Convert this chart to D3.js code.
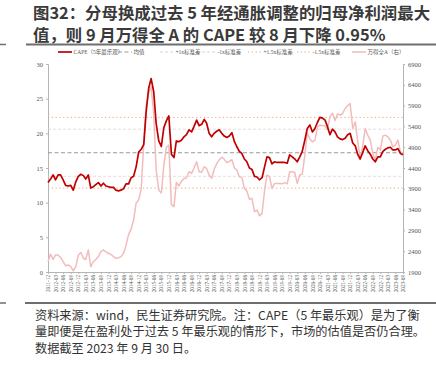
<!DOCTYPE html>
<html lang="zh">
<head>
<meta charset="UTF-8">
<script src="https://d3js.org/d3.v7.min.js"></script>
<style>
  body { margin: 0; background: #fff; }
  svg text { font-family: "Noto Sans CJK SC", "Noto Sans", sans-serif; }
  .axis text { font-family: "Liberation Serif", serif; fill: #555; }
  .legend text { font-family: "Liberation Serif", "Noto Sans CJK SC", serif; fill: #555; }
</style>
</head>
<body>
<div id="chart"></div>
<script>
// CAPE (5年最乐观), monthly 2011-12 .. 2023-09
const capeValues = [
  12.9, 13.4, 14.0, 13.3, 14.0, 14.0, 13.3, 12.5, 12.4, 12.5,
  11.8, 13.0, 13.8, 14.1, 13.9, 13.4, 14.0, 12.1, 12.3, 12.6,
  12.9, 12.4, 12.8, 12.4, 12.3, 12.2, 12.2, 11.8, 11.7, 11.8,
  12.0, 12.7, 12.7, 13.6, 13.8, 15.2, 17.3, 17.7, 18.4, 23.0,
  26.5, 27.9, 26.0, 21.4, 18.9, 18.1, 20.8, 21.8, 22.5, 17.0,
  16.5, 18.9, 18.8, 19.0, 19.5, 19.8, 20.5, 20.2, 21.0, 21.9,
  21.1, 21.3, 22.0, 21.5, 20.0, 19.5, 20.0, 20.3, 20.5, 20.0,
  19.6, 19.4, 19.6, 20.1, 18.8, 18.1, 17.4, 17.1, 16.3, 15.9,
  15.0, 14.8, 13.8, 13.7, 13.3, 13.6, 15.2, 16.6, 16.5, 15.6,
  15.9, 15.8, 15.8, 15.8, 15.8, 15.7, 16.9, 16.6, 16.3, 15.9,
  16.6, 17.4, 19.0, 20.7, 21.2, 20.2, 20.7, 21.6, 22.3, 22.2,
  21.9, 21.0, 19.8, 20.6, 20.2, 19.5, 19.2, 19.1, 19.3, 19.8,
  20.0, 18.6, 18.2, 17.0, 16.3, 17.2, 18.2, 17.5, 17.0, 16.3,
  15.9, 16.6, 16.6, 17.4, 17.7, 17.9, 18.0, 17.6, 17.6, 17.8,
  17.1, 16.9
];

// 万得全A (右轴)
const windAValues = [
  2150, 2330, 2200, 2310, 2310, 2250, 2150, 2050, 2070, 2030,
  1930, 2030, 2300, 2370, 2230, 2200, 2430, 2030, 2150, 2200,
  2270, 2390, 2430, 2380, 2350, 2320, 2270, 2230, 2240, 2270,
  2350, 2540, 2800, 2930, 3150, 3560, 3630, 3900, 5000, 5900,
  6200, 6350, 5700, 4350, 3870, 3800, 4450, 4900, 4950, 3520,
  3470, 4050, 3970, 4080, 4150, 4160, 4310, 4270, 4400, 4550,
  4310, 4300, 4430, 4390, 4230, 4150, 4370, 4500, 4600, 4660,
  4610, 4530, 4560, 4600, 4400, 4350, 4190, 4180, 3910, 3850,
  3650, 3670, 3350, 3390, 3250, 3310, 3870, 4230, 4190, 3910,
  4030, 4030, 4030, 4020, 4050, 4020, 4310, 4310, 4290, 4030,
  4230, 4250, 4700, 5250, 5100, 5030, 5070, 5390, 5430, 5420,
  5410, 5320, 5630, 5720, 5540, 5700, 5670, 5710, 5830, 5900,
  5950, 5350, 5510, 5070, 4630, 4910, 5350, 5190, 5070, 4750,
  4590, 4900, 4830, 5170, 5190, 5150, 5070, 4910, 4950, 5070,
  4790, 4750
];

const bandNames = ["均值", "+1x标准差", "-1x标准差", "+1.5x标准差", "-1.5x标准差"];
const bandValues = [17.2, 20.6, 13.8, 22.3, 12.1];

const tickLabels = [
  "2011-12", "2012-03", "2012-06", "2012-09", "2012-12", "2013-03", "2013-06", "2013-09",
  "2013-12", "2014-03", "2014-06", "2014-09", "2014-12", "2015-03", "2015-06", "2015-09",
  "2015-12", "2016-03", "2016-06", "2016-09", "2016-12", "2017-03", "2017-06", "2017-09",
  "2017-12", "2018-03", "2018-06", "2018-09", "2018-12", "2019-03", "2019-06", "2019-09",
  "2019-12", "2020-03", "2020-06", "2020-09", "2020-12", "2021-03", "2021-06", "2021-09",
  "2021-12", "2022-03", "2022-06", "2022-09", "2022-12", "2023-03", "2023-06", "2023-09"
];
const leftTicks = [0, 5, 10, 15, 20, 25, 30];
const rightTicks = [1900, 2400, 2900, 3400, 3900, 4400, 4900, 5400, 5900, 6400, 6900];

const titleLines = [
  "图32：分母换成过去 5 年经通胀调整的归母净利润最大",
  "值，则 9 月万得全 A 的 CAPE 较 8 月下降 0.95%"
];
const footLines = [
  "资料来源：wind，民生证券研究院。注：CAPE（5 年最乐观）是为了衡",
  "量即便是在盈利处于过去 5 年最乐观的情形下，市场的估值是否仍合理。",
  "数据截至 2023 年 9 月 30 日。"
];

const W = 436, H = 371;
const svg = d3.select("#chart").append("svg").attr("width", W).attr("height", H);

// title
svg.selectAll(".title").data(titleLines).enter().append("text")
  .attr("x", 33).attr("y", (d, i) => 18.5 + i * 22)
  .attr("font-size", 16.4).attr("font-weight", 700).attr("fill", "#3a3a3a")
  .text(d => d);

svg.append("line").attr("x1", 26).attr("x2", W).attr("y1", 44.5).attr("y2", 44.5)
  .attr("stroke", "#6e6e6e").attr("stroke-width", 2);
svg.append("line").attr("x1", 0).attr("x2", 6).attr("y1", 44.5).attr("y2", 44.5)
  .attr("stroke", "#6e6e6e").attr("stroke-width", 1.5);

// scales
const parse = d3.timeParse("%Y-%m");
const months = d3.timeMonth.range(parse("2011-12"), d3.timeMonth.offset(parse("2023-09"), 1));
const x = d3.scaleTime().domain([months[0], months[months.length - 1]]).range([48, 403]);
const yL = d3.scaleLinear().domain([0, 30]).range([272, 64]);
const yR = d3.scaleLinear().domain([1900, 6900]).range([272, 64]);

// axes
const gL = svg.append("g").attr("class", "axis").attr("transform", "translate(48,0)")
  .call(d3.axisLeft(yL).tickValues(leftTicks).tickSize(2).tickPadding(3));
const gR = svg.append("g").attr("class", "axis").attr("transform", "translate(403,0)")
  .call(d3.axisRight(yR).tickValues(rightTicks).tickSize(2).tickPadding(3)
    .tickFormat(d3.format("d")));
const gX = svg.append("g").attr("class", "axis").attr("transform", "translate(0,272)")
  .call(d3.axisBottom(x).tickValues(tickLabels.map(parse)).tickSize(2)
    .tickFormat(d3.timeFormat("%Y-%m")));
[gL, gR, gX].forEach(g => {
  g.select(".domain").attr("stroke", "#b5b5b5");
  g.selectAll(".tick line").attr("stroke", "#b5b5b5");
  g.selectAll("text").attr("font-size", 6.5);
});
gX.selectAll("text").attr("font-size", 5.2)
  .attr("transform", "rotate(-90)").attr("text-anchor", "end")
  .attr("x", -3).attr("y", 0).attr("dy", "0.32em");

// band lines
const bandStyle = [
  {stroke: "#9a9a9a", dash: "4,2.5", w: 1},
  {stroke: "#e6d2d2", dash: "3,2", w: 0.8},
  {stroke: "#e6d2d2", dash: "3,2", w: 0.8},
  {stroke: "#f0a47c", dash: "1.2,2.6", w: 1},
  {stroke: "#f0a47c", dash: "1.2,2.6", w: 1}
];
svg.selectAll(".band").data(bandValues).enter().append("line")
  .attr("x1", 48).attr("x2", 403)
  .attr("y1", d => yL(d)).attr("y2", d => yL(d))
  .attr("stroke", (d, i) => bandStyle[i].stroke)
  .attr("stroke-dasharray", (d, i) => bandStyle[i].dash)
  .attr("stroke-width", (d, i) => bandStyle[i].w);

// series
svg.append("path").datum(windAValues)
  .attr("fill", "none").attr("stroke", "#f2bcbc").attr("stroke-width", 1.5)
  .attr("stroke-linejoin", "round")
  .attr("d", d3.line().x((d, i) => x(months[i])).y(d => yR(d)));
svg.append("path").datum(capeValues)
  .attr("fill", "none").attr("stroke", "#c00000").attr("stroke-width", 1.7)
  .attr("stroke-linejoin", "round")
  .attr("d", d3.line().x((d, i) => x(months[i])).y(d => yL(d)));

// legend
const legendItems = [
  {name: "CAPE（5年最乐观）", x: 58, stroke: "#c00000", dash: null, w: 1.7},
  {name: bandNames[0], x: 118, stroke: "#9a9a9a", dash: "4,2.5", w: 1},
  {name: bandNames[1], x: 160, stroke: "#d9c4c4", dash: "3,2", w: 0.8},
  {name: bandNames[2], x: 202, stroke: "#d9c4c4", dash: "3,2", w: 0.8},
  {name: bandNames[3], x: 248, stroke: "#f0a47c", dash: "1.2,2.6", w: 1},
  {name: bandNames[4], x: 297, stroke: "#f0a47c", dash: "1.2,2.6", w: 1},
  {name: "万得全A（右）", x: 352, stroke: "#f2bcbc", dash: null, w: 1.5}
];
const lg = svg.append("g").attr("class", "legend");
const li = lg.selectAll("g").data(legendItems).enter().append("g")
  .attr("transform", d => `translate(${d.x},52)`);
li.append("line").attr("x1", 0).attr("x2", 14)
  .attr("stroke", d => d.stroke).attr("stroke-width", d => d.w)
  .attr("stroke-dasharray", d => d.dash);
li.append("text").attr("x", 15.5).attr("dy", "0.35em")
  .attr("font-size", 5.5).text(d => d.name);

// bottom rule + footnote
svg.append("line").attr("x1", 25).attr("x2", W).attr("y1", 303).attr("y2", 303)
  .attr("stroke", "#6e6e6e").attr("stroke-width", 2);
svg.append("line").attr("x1", 0).attr("x2", 6).attr("y1", 303).attr("y2", 303)
  .attr("stroke", "#6e6e6e").attr("stroke-width", 1.5);
svg.selectAll(".foot").data(footLines).enter().append("text")
  .attr("x", 35).attr("y", (d, i) => 319.5 + i * 16.5)
  .attr("font-size", 12.2).attr("fill", "#333")
  .text(d => d);
</script>
</body>
</html>
